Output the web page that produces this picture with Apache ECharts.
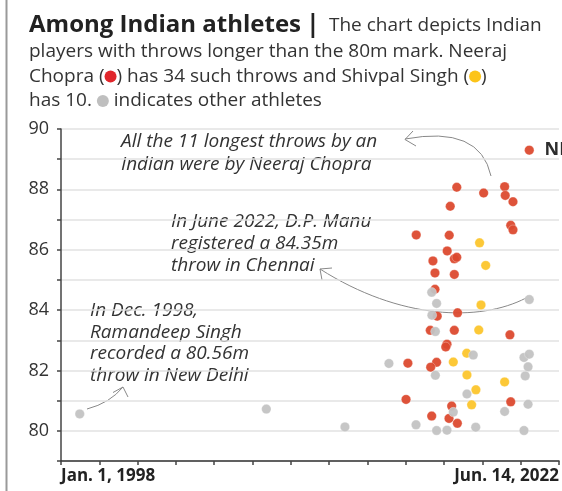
<!DOCTYPE html>
<html>
<head>
<meta charset="utf-8">
<script src="https://cdn.jsdelivr.net/npm/echarts@6/dist/echarts.min.js"></script>
<style>
  html, body { margin: 0; padding: 0; background: #fff; }
  #chart { width: 562px; height: 491px; }
</style>
</head>
<body>
<div id="chart"></div>
<script>
// Throw dates (decimal years) and distances (m)
var neerajYears = [2020.99, 2017.43, 2018.75, 2019.78, 2019.81, 2020.19, 2017.11, 2020.08, 2020.19, 2015.44,
                   2017.06, 2016.96, 2017.31, 2017.43, 2016.26, 2016.36, 2017.31, 2016.36, 2016.47, 2017.47,
                   2016.13, 2017.31, 2020.04, 2016.95, 2016.89, 2015.03, 2016.44, 2016.15, 2014.94, 2017.18,
                   2020.08, 2016.20, 2017.05, 2017.46];
var neerajThrows = [89.30, 88.07, 87.88, 88.09, 87.80, 87.59, 87.44, 86.81, 86.66, 86.49,
                    86.48, 85.96, 85.70, 85.75, 85.63, 85.23, 85.18, 84.69, 83.80, 83.91,
                    83.33, 83.33, 83.18, 82.87, 82.78, 82.24, 82.27, 82.11, 81.04, 80.82,
                    80.96, 80.49, 80.41, 80.25];

var shivpalYears = [2018.55, 2018.85, 2018.62, 2018.51, 2017.92, 2017.26, 2017.93, 2019.78, 2018.37, 2018.16];
var shivpalThrows = [86.23, 85.48, 84.17, 83.34, 82.57, 82.28, 81.85, 81.62, 81.36, 80.86];

var otherYears = [1998.92, 2008.08, 2011.94, 2014.10, 2015.43, 2016.20, 2016.44, 2016.21, 2016.38, 2016.38,
                  2016.44, 2016.95, 2017.26, 2017.93, 2018.24, 2018.36, 2019.78, 2020.73, 2020.99, 2020.93,
                  2020.79, 2020.93, 2020.73, 2020.99];
var otherThrows = [80.56, 80.72, 80.13, 82.23, 80.20, 84.59, 84.22, 83.83, 83.29, 81.84,
                   80.01, 80.02, 80.62, 81.22, 82.51, 80.12, 80.64, 82.43, 82.54, 82.12,
                   81.82, 80.88, 80.01, 84.35];

var xStart = 1998;            // Jan. 1, 1998
var xEnd = 2022 + 164 / 365;  // Jun. 14, 2022
var xTickCount = 13;
var xLabels = ['Jan. 1, 1998', 'Jun. 14, 2022'];
var yTickLabels = [80, 82, 84, 86, 88, 90];

var RED = '#dc4a2f', YELLOW = '#fcc52c', GREY = '#c3c3c3';
var FONT = '"Open Sans", sans-serif';

function pairs(xs, ys) {
    return xs.map(function (x, i) { return [x - xStart, ys[i]]; });
}

var span = xEnd - xStart;
var tickStep = span / xTickCount;

var chart = echarts.init(document.getElementById('chart'));

var pointStyle = function (color) {
    return { color: color, opacity: 0.95, borderColor: 'rgba(255,255,255,0.3)', borderWidth: 1 };
};

// little coloured circles used inside the headline
var dot = function (color) {
    return {
        width: 12, height: 12, borderRadius: 6,
        backgroundColor: color, borderColor: 'rgba(255,255,255,0.6)', borderWidth: 1,
        fontSize: 10
    };
};

var bodyFont = '19px ' + FONT;
var noteFont = 'italic 19px ' + FONT;

var option = {
    animation: false,
    textStyle: { fontFamily: FONT },
    grid: { left: 61, right: 3, top: 129, bottom: 30 },
    xAxis: {
        type: 'value',
        min: 0,
        max: span,
        interval: tickStep,
        axisLine: { lineStyle: { color: '#333', width: 1.5 } },
        axisTick: { show: true, length: 4, lineStyle: { color: '#444', width: 1.5 } },
        splitLine: { show: false },
        axisLabel: {
            showMinLabel: true,
            showMaxLabel: true,
            alignMinLabel: 'left',
            alignMaxLabel: 'right',
            margin: 7,
            fontFamily: FONT,
            fontSize: 17,
            fontWeight: 'bold',
            color: '#222',
            formatter: function (v) {
                if (Math.abs(v) < 1e-6) return xLabels[0];
                if (Math.abs(v - span) < 1e-3) return xLabels[1];
                return '';
            }
        }
    },
    yAxis: {
        type: 'value',
        min: 79,
        max: 90,
        interval: 1,
        axisLine: { show: true, lineStyle: { color: '#444', width: 1.5 } },
        axisTick: { show: true, length: 4, lineStyle: { color: '#444', width: 1.5 } },
        splitLine: { show: true, lineStyle: { color: '#e2e2e2', width: 1.5 } },
        axisLabel: {
            margin: 12,
            fontFamily: FONT,
            fontSize: 18,
            color: '#333',
            formatter: function (v) {
                return yTickLabels.indexOf(v) >= 0 ? String(v) : '';
            }
        }
    },
    series: [
        {
            name: 'Neeraj Chopra',
            type: 'scatter',
            symbolSize: 9.5,
            itemStyle: pointStyle(RED),
            data: pairs(neerajYears, neerajThrows).map(function (d, i) {
                if (i === 0) {
                    return {
                        value: d,
                        label: {
                            show: true, position: 'right', distance: 10,
                            formatter: 'NR', fontFamily: FONT, fontSize: 18,
                            fontWeight: 'bold', color: '#222'
                        }
                    };
                }
                return d;
            })
        },
        {
            name: 'Shivpal Singh',
            type: 'scatter',
            symbolSize: 9.5,
            itemStyle: pointStyle(YELLOW),
            data: pairs(shivpalYears, shivpalThrows)
        },
        {
            name: 'Other athletes',
            type: 'scatter',
            symbolSize: 9.5,
            itemStyle: pointStyle(GREY),
            data: pairs(otherYears, otherThrows)
        }
    ],
    graphic: [
        // page border on the left
        { type: 'line', shape: { x1: 6.5, y1: 0, x2: 6.5, y2: 491 }, style: { stroke: '#9a9a9a', lineWidth: 2 } },

        // headline
        {
            type: 'text', left: 29, top: 13,
            style: { text: 'Among Indian athletes', font: 'bold 24px ' + FONT, fill: '#222' }
        },
        {
            type: 'text', left: 306, top: 12,
            style: { text: '|', font: 'bold 25px ' + FONT, fill: '#222' }
        },
        {
            type: 'text', left: 329, top: 16,
            style: { text: 'The chart depicts Indian', font: bodyFont, fill: '#333' }
        },
        {
            type: 'text', left: 29, top: 42,
            style: { text: 'players with throws longer than the 80m mark. Neeraj', font: bodyFont, fill: '#333' }
        },
        {
            type: 'text', left: 29, top: 67,
            style: {
                text: 'Chopra ({r| }) has 34 such throws and Shivpal Singh ({y| })',
                font: bodyFont, fill: '#333',
                rich: { r: dot('#e0262b'), y: dot('#fcc419') }
            }
        },
        {
            type: 'text', left: 29, top: 91.5,
            style: {
                text: 'has 10. {g| } indicates other athletes',
                font: bodyFont, fill: '#333',
                rich: { g: dot('#bfbfbf') }
            }
        },

        // annotations
        {
            type: 'text', left: 121, top: 130,
            style: {
                text: 'All the 11 longest throws by an\nIndian were by Neeraj Chopra',
                font: noteFont, fill: '#333', lineHeight: 23
            }
        },
        {
            type: 'text', left: 171, top: 211,
            style: {
                text: 'In June 2022, D.P. Manu\nregistered a 84.35m\nthrow in Chennai',
                font: noteFont, fill: '#333', lineHeight: 22
            }
        },
        {
            type: 'text', left: 90, top: 300,
            style: {
                text: 'In Dec. 1998,\nRamandeep Singh\nrecorded a 80.56m\nthrow in New Delhi',
                font: noteFont, fill: '#333', lineHeight: 21.5
            }
        },

        // arrows
        {
            type: 'bezierCurve',
            shape: { x1: 491, y1: 176, cpx1: 480, cpy1: 125, x2: 405, y2: 139 },
            style: { stroke: '#888', lineWidth: 1, fill: null }
        },
        {
            type: 'polyline',
            shape: { points: [[413, 131], [405, 139.5], [416, 146]] },
            style: { stroke: '#888', lineWidth: 1, fill: null }
        },
        {
            type: 'bezierCurve',
            shape: { x1: 526, y1: 298, cpx1: 480, cpy1: 322, cpx2: 400, cpy2: 320, x2: 320, y2: 269 },
            style: { stroke: '#888', lineWidth: 1, fill: null }
        },
        {
            type: 'polyline',
            shape: { points: [[332, 268], [320, 269], [322, 280]] },
            style: { stroke: '#888', lineWidth: 1, fill: null }
        },
        {
            type: 'bezierCurve',
            shape: { x1: 87, y1: 409, cpx1: 110, cpy1: 403, x2: 123, y2: 387 },
            style: { stroke: '#888', lineWidth: 1, fill: null }
        },
        {
            type: 'polyline',
            shape: { points: [[113, 392.5], [123, 387], [128, 397]] },
            style: { stroke: '#888', lineWidth: 1, fill: null }
        }
    ]
};

chart.setOption(option);
</script>
</body>
</html>
